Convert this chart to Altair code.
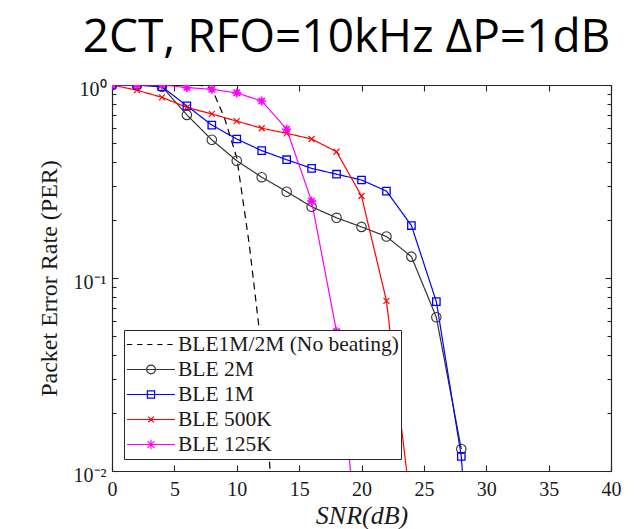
import altair as alt
import pandas as pd

# ---- data ----
snr_2m = [0, 2, 4, 6, 8, 10, 12, 14, 16, 18, 20, 22, 24, 26, 28]
per_2m = [1.0, 1.0, 0.98, 0.70, 0.52, 0.405, 0.333, 0.28, 0.234, 0.205, 0.184, 0.164, 0.129, 0.0626, 0.013]

snr_1m = [0, 2, 4, 6, 8, 10, 12, 14, 16, 18, 20, 22, 24, 26, 28, 30]
per_1m = [1.0, 1.0, 0.98, 0.78, 0.62, 0.525, 0.457, 0.41, 0.37, 0.345, 0.322, 0.282, 0.187, 0.0754, 0.0119, 0.0002]

snr_500k = [0, 2, 4, 6, 8, 10, 12, 14, 16, 18, 20, 22, 24]
per_500k = [1.0, 0.94, 0.863, 0.766, 0.708, 0.65, 0.597, 0.562, 0.525, 0.451, 0.266, 0.0762, 0.0062]

snr_125k = [0, 2, 4, 6, 8, 10, 12, 14, 16, 18, 20]
per_125k = [1.0, 1.0, 1.0, 0.97, 0.95, 0.91, 0.826, 0.59, 0.25, 0.0527, 0.0027]

snr_nb = [0, 1, 2, 3, 4, 5, 6, 7, 8, 9, 10, 11, 12, 13]
per_nb = [1.0, 1.0, 1.0, 1.0, 1.0, 1.0, 1.0, 1.0, 0.96, 0.68, 0.42, 0.15, 0.042, 0.005]

series_names = ["BLE1M/2M (No beating)", "BLE 2M", "BLE 1M", "BLE 500K", "BLE 125K"]
series_colors = ["#000000", "#333333", "#0000FF", "#FF0000", "#FF00FF"]

x_ticks = [0, 5, 10, 15, 20, 25, 30, 35, 40]
y_major = [1.0, 0.1, 0.01]
y_minor = [0.02, 0.03, 0.04, 0.05, 0.06, 0.07, 0.08, 0.09,
           0.2, 0.3, 0.4, 0.5, 0.6, 0.7, 0.8, 0.9]

title_text = "2CT, RFO=10kHz ΔP=1dB"

# ---- table ----
rows = []
for name, xs, ys in [
    (series_names[0], snr_nb, per_nb),
    (series_names[1], snr_2m, per_2m),
    (series_names[2], snr_1m, per_1m),
    (series_names[3], snr_500k, per_500k),
    (series_names[4], snr_125k, per_125k),
]:
    for xv, yv in zip(xs, ys):
        rows.append({"series": name, "snr": xv, "per": yv})
df = pd.DataFrame(rows)

W, H = 499, 386
SERIF = "Liberation Serif"
FRAME = "#262626"

xscale = alt.Scale(domain=[0, 40], nice=False, zero=False)
yscale = alt.Scale(type="log", domain=[0.01, 1], nice=False)

marker_paths = {
    series_names[1]: ("circle", 90, 1.1),
    series_names[2]: ("square", 55, 1.3),
    series_names[3]: ("M-1,-1L1,1M-1,1L1,-1", 36, 1.1),
    series_names[4]: ("M-1,0H1M0,-1V1M-0.72,-0.72L0.72,0.72M-0.72,0.72L0.72,-0.72", 80, 1.7),
}

legend_paths = [
    "M-1,0H-0.78M-0.58,0H-0.36M-0.16,0H0.06M0.26,0H0.48M0.68,0H0.9",
    "M-1,0H1M0.18,0A0.18,0.18 0 1,1 -0.18,0A0.18,0.18 0 1,1 0.18,0",
    "M-1,0H1M-0.15,-0.15H0.15V0.15H-0.15Z",
    "M-1,0H1M-0.12,-0.12L0.12,0.12M-0.12,0.12L0.12,-0.12",
    "M-1,0H1M0,-0.2V0.2M-0.14,-0.14L0.14,0.14M-0.14,0.14L0.14,-0.14",
]

base = alt.Chart(df)

# main axes
main_x_axis = alt.Axis(
    orient="bottom", values=x_ticks, ticks=False, grid=False, domain=True,
    domainColor=FRAME, domainWidth=1.2,
    labelFont=SERIF, labelFontSize=20, labelColor="#1a1a1a", labelPadding=8,
    labelFlush=False, labelOverlap=False,
    title="SNR(dB)", titleFont=SERIF, titleFontStyle="italic", titleFontWeight="normal",
    titleFontSize=26, titleColor="#1a1a1a", titlePadding=3,
)
main_y_axis = alt.Axis(
    orient="left", values=y_major, ticks=False, grid=False, domain=True,
    domainColor=FRAME, domainWidth=1.2,
    labelFont=SERIF, labelFontSize=20, labelColor="#1a1a1a", labelPadding=6,
    labelFlush=False, labelOverlap=False, labelBaseline="middle", labelOffset=4,
    labelExpr="datum.value >= 0.99 ? '10⁰' : (datum.value >= 0.099 ? '10⁻¹' : '10⁻²')",
    title="Packet Error Rate (PER)", titleFont=SERIF, titleFontWeight="normal",
    titleFontSize=24, titleColor="#1a1a1a", titlePadding=12,
)

layers = []

# lines
for i, name in enumerate(series_names):
    dash = [7, 5] if i == 0 else [1, 0]
    color = series_colors[i]
    if i == 0:
        xa, ya = main_x_axis, main_y_axis
    else:
        xa, ya = None, None
    layers.append(
        base.transform_filter(alt.datum.series == name)
        .mark_line(color=color, strokeWidth=1.2, strokeDash=dash, clip=True)
        .encode(x=alt.X("snr:Q", scale=xscale, axis=xa),
                y=alt.Y("per:Q", scale=yscale, axis=ya))
    )

# markers
for i, name in enumerate(series_names[1:], start=1):
    shape, size, sw = marker_paths[name]
    layers.append(
        base.transform_filter(alt.datum.series == name)
        .mark_point(shape=shape, size=size, filled=False, color=series_colors[i],
                    strokeWidth=sw, opacity=1, clip=True)
        .encode(x=alt.X("snr:Q", scale=xscale, axis=None),
                y=alt.Y("per:Q", scale=yscale, axis=None))
    )

# decoration axes (inner ticks + box)
def deco(xaxis, yaxis):
    return base.mark_point(opacity=0, size=0).encode(
        x=alt.X("snr:Q", scale=xscale, axis=xaxis),
        y=alt.Y("per:Q", scale=yscale, axis=yaxis),
    )

tick_common = dict(labels=False, grid=False, title=None, tickColor=FRAME, tickWidth=1.1)

layers.append(deco(
    alt.Axis(orient="top", offset=-H, values=x_ticks, domain=False, tickSize=6, **tick_common),
    alt.Axis(orient="right", offset=-W, values=y_major, domain=False, tickSize=6, **tick_common),
))
layers.append(deco(
    alt.Axis(orient="bottom", offset=-H, values=x_ticks, domain=True, domainColor=FRAME,
             domainWidth=1.2, tickSize=6, **tick_common),
    alt.Axis(orient="left", offset=-W, values=y_major, domain=True, domainColor=FRAME,
             domainWidth=1.2, tickSize=6, **tick_common),
))
layers.append(deco(
    None,
    alt.Axis(orient="right", offset=-W, values=y_minor, domain=False, tickSize=4, **tick_common),
))
layers.append(deco(
    None,
    alt.Axis(orient="left", offset=-W, values=y_minor, domain=False, tickSize=4, **tick_common),
))

legend_props = dict(
    title=None, orient="bottom-left", offset=12,
    symbolSize=2304, clipHeight=25, rowPadding=0,
    symbolOpacity=1, symbolStrokeWidth=1.2,
    symbolFillColor="transparent",
    labelFont=SERIF, labelFontSize=21.5, labelColor="#1a1a1a",
    labelOffset=2, padding=2,
    strokeColor=FRAME, fillColor="white",
    labelLimit=400,
)

# legend-driving layer
layers.append(
    base.mark_point(opacity=0, filled=False, strokeWidth=1.2).encode(
        x=alt.X("snr:Q", scale=xscale, axis=None),
        y=alt.Y("per:Q", scale=yscale, axis=None),
        color=alt.Color("series:N", scale=alt.Scale(domain=series_names, range=series_colors),
                        legend=alt.Legend(**legend_props)),
        shape=alt.Shape("series:N", scale=alt.Scale(domain=series_names, range=legend_paths),
                        legend=alt.Legend(**legend_props)),
    )
)

chart = (
    alt.layer(*layers)
    .resolve_axis(x="independent", y="independent")
    .properties(
        width=W, height=H,
        autosize=alt.AutoSizeParams(type="none"),
        padding={"left": 112, "top": 85, "right": 32, "bottom": 58},
        title=alt.TitleParams(title_text, font="Open Sans", fontSize=46, fontWeight="normal",
                              color="#000000", anchor="middle", dx=-15, offset=17),
    )
    .configure_view(stroke=None)
    .configure(background="white")
)

chart.save("out.html", embed_options={"renderer": "svg", "actions": False})
